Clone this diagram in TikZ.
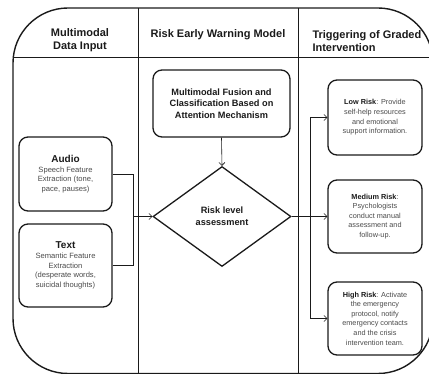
\documentclass[tikz,border=0pt]{standalone}
\usepackage{fontspec}
\setmainfont{Liberation Sans}
\usetikzlibrary{shapes.geometric,arrows.meta}
\definecolor{ink}{HTML}{1A1A1A}
\definecolor{desc}{HTML}{4A4A4A}
\begin{document}
\begin{tikzpicture}[x=1pt,y=-1pt,
  frame/.style={draw=ink,line width=1.4pt},
  divider/.style={draw=ink,line width=0.7pt},
  boxstyle/.style={draw=ink,line width=1.3pt,rounded corners=9pt,align=center,inner sep=2pt,text=desc},
  head/.style={font=\fontsize{11}{13.5}\selectfont\bfseries,text=ink},
  link/.style={draw=ink,line width=0.6pt},
  arr/.style={link,-{Straight Barb[length=3pt,width=6pt]}}
]
\useasboundingbox (0,0) rectangle (429,374);
\clip (0,0) rectangle (429,374);
% outer frame
\draw[frame,rounded corners=55pt] (13,8) rectangle (433,373.5);
\draw[divider] (13,57) -- (433,57);
\draw[divider] (138,8) -- (138,374);
\draw[divider] (298,8) -- (298,374);
% headers
\node[head,align=center] (h1) at (80,40) {Multimodal\\Data Input};
\node[head] (h2) at (218,35) {Risk Early Warning Model};
\node[head,align=left,anchor=west] (h3) at (309,41) {Triggering of Graded\\Intervention};
% boxes
\node[boxstyle,minimum width=137pt,minimum height=67pt,text=ink,
  font=\fontsize{9.2}{11.7}\selectfont\bfseries] (fus) at (221.5,103.5)
  {Multimodal Fusion and\\Classification Based on\\Attention Mechanism};
\node[boxstyle,minimum width=93pt,minimum height=74pt,
  font=\fontsize{7.6}{9.6}\selectfont] (aud) at (65.5,174)
  {{\fontsize{10}{11.5}\selectfont\bfseries\color{ink}Audio}\\Speech Feature\\Extraction (tone,\\pace, pauses)};
\node[boxstyle,minimum width=93pt,minimum height=83pt,
  font=\fontsize{7.6}{9.6}\selectfont] (txt) at (65.5,265.5)
  {{\fontsize{10}{11.5}\selectfont\bfseries\color{ink}Text}\\Semantic Feature\\Extraction\\(desperate words,\\suicidal thoughts)};
\node[draw=ink,line width=1.3pt,diamond,minimum width=138pt,minimum height=100pt,inner sep=0pt,
  align=center,text=ink,font=\fontsize{9.2}{11.7}\selectfont\bfseries] (dia) at (222,216.5)
  {Risk level\\assessment};
\node[boxstyle,minimum width=94pt,minimum height=75pt,
  font=\fontsize{7.3}{9.6}\selectfont] (low) at (375,117.5)
  {{\bfseries\color{ink}Low Risk}: Provide\\self-help resources\\and emotional\\support information.};
\node[boxstyle,minimum width=94pt,minimum height=73pt,
  font=\fontsize{7.3}{9.6}\selectfont] (med) at (375,216.5)
  {{\bfseries\color{ink}Medium Risk}:\\Psychologists\\conduct manual\\assessment and\\follow-up.};
\node[boxstyle,minimum width=94pt,minimum height=73pt,
  font=\fontsize{7.3}{9.6}\selectfont] (high) at (375,318.5)
  {{\bfseries\color{ink}High Risk}: Activate\\the emergency\\protocol, notify\\emergency contacts\\and the crisis\\intervention team.};
% connectors
\coordinate (jl) at (133,216.5);
\coordinate (jr) at (310,216.5);
\draw[link] (aud.east) -| (jl);
\draw[link] (txt.east) -| (jl);
\draw[arr] (jl) -- (dia.west);
\draw[arr] (fus.south) -- (dia.north);
\draw[link] (dia.east) -- (jr);
\draw[arr] (jr) -- (med.west);
\draw[arr] (jr) |- (low.west);
\draw[arr] (jr) |- (high.west);
\end{tikzpicture}
\end{document}
